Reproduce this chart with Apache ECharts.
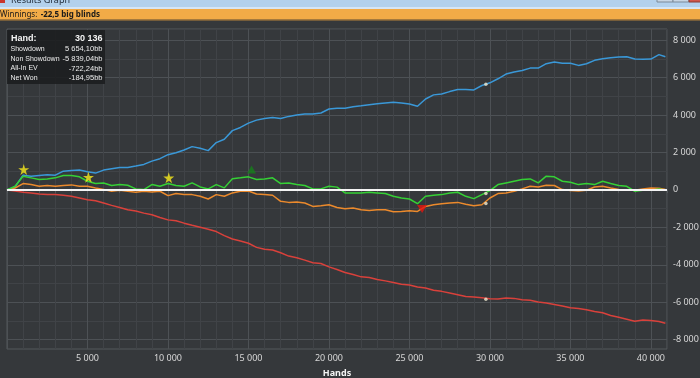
<!DOCTYPE html>
<html>
<head>
<meta charset="utf-8">
<script src="https://cdn.jsdelivr.net/npm/echarts@6/dist/echarts.min.js"></script>
<style>
  html, body { margin: 0; padding: 0; background: #35383b; }
  #chart { width: 700px; height: 378px; }
</style>
</head>
<body>
<div id="chart"></div>
<script>
// hands played (x) and cumulative big blinds for each line
const hands = [0, 500, 1000, 1500, 2000, 2500, 3000, 3500, 4000, 4500,
  5000, 5500, 6000, 6500, 7000, 7500, 8000, 8500, 9000, 9500,
  10000, 10500, 11000, 11500, 12000, 12500, 13000, 13500, 14000, 14500,
  15000, 15500, 16000, 16500, 17000, 17500, 18000, 18500, 19000, 19500,
  20000, 20500, 21000, 21500, 22000, 22500, 23000, 23500, 24000, 24500,
  25000, 25500, 26000, 26500, 27000, 27500, 28000, 28500, 29000, 29500,
  30000, 30500, 31000, 31500, 32000, 32500, 33000, 33500, 34000, 34500,
  35000, 35500, 36000, 36500, 37000, 37500, 38000, 38500, 39000, 39500,
  40000, 40500, 40900];

const showdown = [0, 160, 790, 735, 770, 805, 790, 1005, 1040, 1060,
  970, 900, 1060, 1130, 1200, 1200, 1275, 1365, 1540, 1670,
  1885, 1990, 2135, 2315, 2225, 2100, 2530, 2710, 3170,
  3340, 3570, 3730, 3820, 3875, 3820, 3930, 4000, 4055, 4055, 4110,
  4325, 4360, 4360, 4450, 4500, 4555, 4610, 4650, 4680, 4650,
  4590, 4470, 4860, 5080, 5130, 5255, 5365, 5370,
  5345, 5580, 5725, 5940, 6190, 6300, 6385, 6510, 6510, 6745, 6835, 6765,
  6765, 6655, 6745, 6925, 7015, 7070, 7105, 7120, 6995, 6980, 6995, 7230, 7120];

const nonShowdown = [0, -55, -125, -160, -215, -250, -250, -290, -340, -430,
  -520, -575, -700, -825, -935, -1060, -1130, -1240, -1330, -1470,
  -1600, -1650, -1775, -1885, -1990, -2100, -2225, -2440, -2620,
  -2725, -2850, -3070, -3175, -3210, -3355, -3535, -3625, -3750, -3895, -3930,
  -4110, -4250, -4415, -4520, -4645, -4680, -4790, -4860, -4950, -5040,
  -5075, -5185, -5240, -5365, -5420, -5510, -5600, -5700,
  -5725, -5760, -5815, -5830, -5775, -5795, -5865, -5900, -5990, -6045, -6120, -6205,
  -6295, -6330, -6405, -6495, -6565, -6710, -6800, -6905, -7015, -6945, -6980, -7030, -7120];

const allInEv = [0, 105, 340, 285, 195, 235, 195, 235, 270, 195,
  195, 105, 20, -70, -20, -70, -125, -70, -110, -70,
  -305, -195, -250, -250, -340, -485, -250, -340, -160,
  -70, -55, -215, -250, -285, -610, -665, -645, -700, -880, -845,
  -790, -935, -1005, -970, -1060, -1095, -1060, -1060, -1165, -1150,
  -1110, -1150, -880, -790, -735, -700, -665, -760,
  -845, -790, -430, -195, -160, -70, 55, 195, 160, 250, 235, 20,
  -35, -55, -20, 160, 195, 105, 20, -20, -20, 55, 105, 90, 20];

const netWon = [0, 195, 735, 645, 555, 590, 645, 770, 770, 700,
  465, 340, 375, 235, 285, 250, 55, 20, 285, 195,
  340, 235, 195, 375, 160, 55, 285, 110, 600,
  645, 700, 555, 590, 645, 340, 375, 285, 235, 55, 55,
  195, 150, -160, -160, -160, -125, -160, -195, -340, -430,
  -485, -735, -340, -285, -250, -160, -125, -340,
  -465, -250, -40, 285, 375, 465, 555, 590, 375, 735, 700, 465,
  410, 285, 340, 285, 465, 340, 235, 195, -70, -20, -20, 55, -22];

// event markers
const starPoints = [[1040, 1095], [5060, 680], [10050, 645]];
const upPoints = [[15190, 1090]];
const downPoints = [[25790, -1020]];

// hovered hand
const cursorHand = 29750;
const cursorLabel = 30136;
const cursorNames = ['Showdown', 'Non Showdown', 'All-In EV', 'Net Won'];
const cursorValues = [5654.10, -5839.04, -722.24, -184.95];

const winnings = -22.5;

function thousands(v) {
  const s = String(Math.abs(Math.round(v))).replace(/\B(?=(\d{3})+(?!\d))/g, ' ');
  return (v < 0 ? '-' : '') + s;
}
function bb(v) {
  const parts = Math.abs(v).toFixed(2).split('.');
  return (v < 0 ? '-' : '') + thousands(Number(parts[0])) + ',' + parts[1] + 'bb';
}

const pair = arr => hands.map((h, i) => [h, arr[i]]);

const STAR = 'path://M50,0 L61,35 L98,35 L68,57 L79,91 L50,70 L21,91 L32,57 L2,35 L39,35 Z';
const FONT = '"Noto Sans", "DejaVu Sans", sans-serif';
const TIPFONT = '"Liberation Sans", Arial, sans-serif';

const major = '#4d5155';
const minor = '#404347';

// hover box rows
const tipRows = [];
tipRows.push({ type: 'text', z: 110, style: { text: 'Hand:', x: 11, y: 38.5, fill: '#f4f4f4', font: 'bold 9px ' + TIPFONT, textVerticalAlign: 'middle' } });
tipRows.push({ type: 'text', z: 110, style: { text: thousands(cursorLabel), x: 102.5, y: 38.5, fill: '#f4f4f4', font: 'bold 9px ' + TIPFONT, textAlign: 'right', textVerticalAlign: 'middle' } });
cursorNames.forEach((n, i) => {
  const y = 48.7 + i * 9.9;
  tipRows.push({ type: 'text', z: 110, style: { text: n, x: 10.5, y: y, fill: '#ededed', font: '7px ' + TIPFONT, textVerticalAlign: 'middle' } });
  tipRows.push({ type: 'text', z: 110, style: { text: bb(cursorValues[i]), x: 102.5, y: y, fill: '#ededed', font: '7.5px ' + TIPFONT, textAlign: 'right', textVerticalAlign: 'middle' } });
});

const chart = echarts.init(document.getElementById('chart'), null, { renderer: 'canvas' });

const option = {
  backgroundColor: '#35383b',
  animation: false,
  grid: {
    left: 7, right: 33, top: 29, bottom: 29,
    outerBoundsMode: 'none', containLabel: false,
    show: true, borderColor: '#55595d', borderWidth: 1, backgroundColor: 'transparent'
  },
  xAxis: {
    type: 'value',
    min: 0,
    max: 41000,
    interval: 1000,
    name: 'Hands',
    nameLocation: 'middle',
    nameGap: 20,
    nameTextStyle: { color: '#f4f4f4', fontWeight: 'bold', fontSize: 9, fontFamily: FONT },
    axisLine: { show: false },
    axisTick: { show: true, length: 3, lineStyle: { color: '#55595d' } },
    axisLabel: {
      color: '#d8d8d8', fontSize: 9, fontFamily: FONT, margin: 5,
      formatter: v => (v > 0 && v % 5000 === 0) ? thousands(v) : ''
    },
    splitLine: { show: true, lineStyle: { color: [major, minor, minor, minor, minor], width: 1 } }
  },
  yAxis: {
    type: 'value',
    position: 'right',
    min: -8500,
    max: 8600,
    interval: 500,
    axisLine: { show: false },
    axisTick: { show: false },
    axisLabel: {
      color: '#d8d8d8', fontSize: 9, fontFamily: FONT, margin: 6,
      formatter: v => (v % 2000 === 0) ? thousands(v) : ''
    },
    splitLine: { show: true, lineStyle: { color: ['transparent', major, 'transparent', minor], width: 1 } }
  },
  graphic: [
    { type: 'rect', shape: { x: 0, y: 0, width: 700, height: 7 }, style: { fill: '#b3d1ec' } },
    { type: 'rect', shape: { x: 0, y: 7, width: 700, height: 2 }, style: { fill: '#d6e6f5' } },
    { type: 'rect', shape: { x: 0, y: -2, width: 5, height: 5 }, style: { fill: '#c9352b' } },
    { type: 'text', style: { text: 'Results Graph', x: 11, y: 0, fill: '#1e2a38', font: '9px ' + FONT, textVerticalAlign: 'middle' } },
    { type: 'rect', shape: { x: 657, y: -3, width: 16, height: 5 }, style: { fill: '#c8d6e4', stroke: '#7b8a99', lineWidth: 1 } },
    { type: 'rect', shape: { x: 673, y: -3, width: 16, height: 5 }, style: { fill: '#c8d6e4', stroke: '#7b8a99', lineWidth: 1 } },
    { type: 'rect', shape: { x: 689, y: -3, width: 12, height: 5 }, style: { fill: '#d2574b', stroke: '#8a3a33', lineWidth: 1 } },
    { type: 'rect', shape: { x: 0, y: 9, width: 700, height: 10.5 }, style: { fill: '#f2ab47' } },
    { type: 'rect', shape: { x: 0, y: 19.5, width: 700, height: 1 }, style: { fill: '#b8823a' } },
    {
      type: 'text',
      style: {
        x: 0, y: 14.6, textVerticalAlign: 'middle',
        text: '{n|Winnings:} {b|' + String(winnings).replace('.', ',') + ' big blinds}',
        rich: {
          n: { fontSize: 8, fontFamily: FONT, fill: '#1a1a1a', color: '#1a1a1a' },
          b: { fontSize: 8, fontFamily: FONT, fontWeight: 'bold', fill: '#1a1a1a', color: '#1a1a1a' }
        }
      }
    },
    { type: 'rect', z: 100, shape: { x: 7, y: 30, width: 98, height: 54 }, style: { fill: 'rgba(27,29,31,0.88)' } }
  ].concat(tipRows),
  series: [
    { name: 'Showdown', type: 'line', data: pair(showdown), showSymbol: false, z: 2,
      lineStyle: { color: '#3a98d8', width: 1.5 }, itemStyle: { color: '#3a98d8' } },
    { name: 'Non Showdown', type: 'line', data: pair(nonShowdown), showSymbol: false, z: 2,
      lineStyle: { color: '#d9413b', width: 1.5 }, itemStyle: { color: '#d9413b' } },
    { name: 'All-In EV', type: 'line', data: pair(allInEv), showSymbol: false, z: 2,
      lineStyle: { color: '#ec8a2c', width: 1.5 }, itemStyle: { color: '#ec8a2c' } },
    { name: 'Net Won', type: 'line', data: pair(netWon), showSymbol: false, z: 3,
      lineStyle: { color: '#35d135', width: 1.5 }, itemStyle: { color: '#35d135' } },
    { type: 'line', data: [], z: 4,
      markLine: { silent: true, symbol: 'none', label: { show: false },
        lineStyle: { color: '#f4f4f4', width: 2, type: 'solid' }, data: [{ yAxis: 0 }] } },
    { type: 'scatter', data: starPoints, symbol: STAR, symbolSize: 11, z: 6,
      itemStyle: { color: '#f7ea1c' } },
    { type: 'scatter', data: upPoints, symbol: 'triangle', symbolSize: [9, 8], z: 6,
      itemStyle: { color: '#16801c' } },
    { type: 'scatter', data: downPoints, symbol: 'triangle', symbolRotate: 180, symbolSize: [10, 8], z: 6,
      itemStyle: { color: '#e5140f' } },
    { type: 'scatter', data: cursorValues.map(v => [cursorHand, v]), symbol: 'circle', symbolSize: 3.5, z: 6,
      itemStyle: { color: '#f1ead0' } }
  ]
};

chart.setOption(option);
</script>
</body>
</html>
